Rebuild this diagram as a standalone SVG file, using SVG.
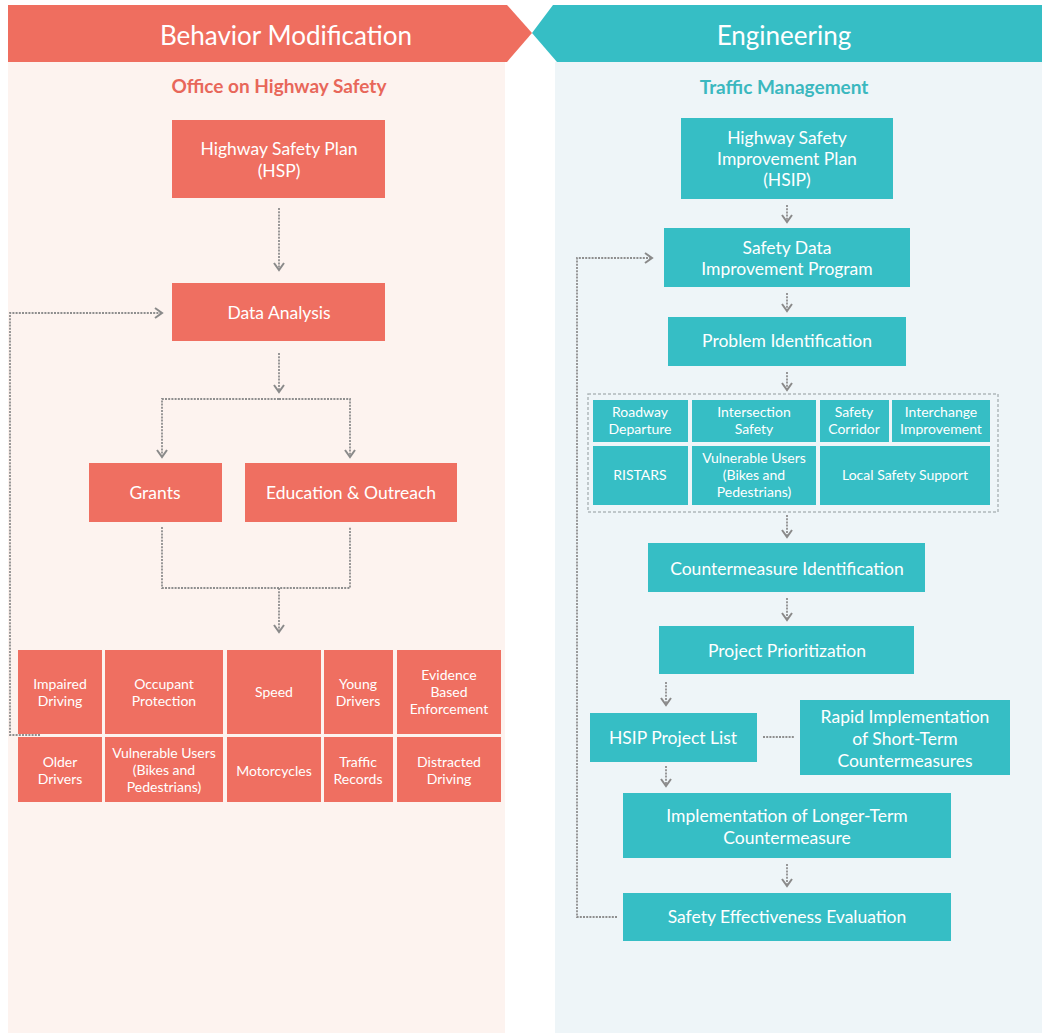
<svg xmlns="http://www.w3.org/2000/svg" width="1042" height="1033" viewBox="0 0 1042 1033">
<defs>
<style>
.red{fill:#ef6f61}
.teal{fill:#36bec5}
.t{font-family:Lato,"Open Sans","Liberation Sans",sans-serif;fill:#ffffff;text-anchor:middle}
.n{font-size:17.5px}
.s{font-size:14px}
.h{font-size:26px}
.conn{fill:none;stroke:#8e8e8e;stroke-width:1.8;stroke-dasharray:2 1.2}
</style>
<marker id="ah" viewBox="0 0 12 12" markerWidth="12" markerHeight="12" refX="10" refY="6" orient="auto" markerUnits="userSpaceOnUse">
<path d="M3,1 L10,6 L3,11" fill="none" stroke="#8a8a8a" stroke-width="2"/>
</marker>
</defs>
<rect x="0" y="0" width="1042" height="1033" fill="#ffffff"/>
<rect x="8" y="62" width="497" height="971" fill="#fdf3ef"/>
<rect x="555" y="62" width="487" height="971" fill="#eef5f8"/>
<g id="header-left">
<polygon points="8,5 507,5 532,33 507,62 8,62" fill="#ef6e5f"/>
<text class="t h" x="286" y="45">Behavior Modification</text>
</g>
<g id="header-right">
<polygon points="532,33 553,5 1042,5 1042,62 557,62" fill="#36bec5"/>
<text class="t h" x="784" y="45">Engineering</text>
</g>
<text x="279" y="93" text-anchor="middle" font-family="Lato,'Open Sans','Liberation Sans',sans-serif" font-size="19" font-weight="bold" fill="#e8675a">Office on Highway Safety</text>
<text x="784" y="94" text-anchor="middle" font-family="Lato,'Open Sans','Liberation Sans',sans-serif" font-size="19" font-weight="bold" fill="#3bb8bf">Traffic Management</text>

<g id="connectors">
<path class="conn" d="M279,208 V270" marker-end="url(#ah)"/>
<path class="conn" d="M279,353 V392" marker-end="url(#ah)"/>
<path class="conn" d="M279,399 H162 V457" marker-end="url(#ah)"/>
<path class="conn" d="M279,399 H350 V457" marker-end="url(#ah)"/>
<path class="conn" d="M162,527 V588 H350 V527"/>
<path class="conn" d="M279,588 V632" marker-end="url(#ah)"/>
<path class="conn" d="M40,735 H10 V313 H162" marker-end="url(#ah)"/>
<path class="conn" d="M787,205 V222" marker-end="url(#ah)"/>
<path class="conn" d="M787,293 V311" marker-end="url(#ah)"/>
<path class="conn" d="M787,372 V390" marker-end="url(#ah)"/>
<path class="conn" d="M787,515 V537" marker-end="url(#ah)"/>
<path class="conn" d="M787,598 V620" marker-end="url(#ah)"/>
<path class="conn" d="M666,682 V705" marker-end="url(#ah)"/>
<path class="conn" d="M666,766 V786" marker-end="url(#ah)"/>
<path class="conn" d="M787,864 V886" marker-end="url(#ah)"/>
<path class="conn" d="M763,737 H795"/>
<path class="conn" d="M617,917 H577 V258 H652" marker-end="url(#ah)"/>
</g>

<g id="hsp"><rect class="red" x="172" y="120" width="213" height="78"/>
<text class="t n" x="279" y="155">Highway Safety Plan</text><text class="t n" x="279" y="177">(HSP)</text></g>
<g id="data-analysis"><rect class="red" x="172" y="283" width="213" height="58"/>
<text class="t n" x="279" y="319">Data Analysis</text></g>
<g id="grants"><rect class="red" x="89" y="463" width="133" height="59"/>
<text class="t n" x="155" y="499">Grants</text></g>
<g id="education"><rect class="red" x="245" y="463" width="212" height="59"/>
<text class="t n" x="351" y="499">Education &amp; Outreach</text></g>

<g id="impaired"><rect class="red" x="18" y="650" width="84" height="84"/>
<text class="t s" x="60" y="689">Impaired</text><text class="t s" x="60" y="706">Driving</text></g>
<g id="occupant"><rect class="red" x="105" y="650" width="118" height="84"/>
<text class="t s" x="164" y="689">Occupant</text><text class="t s" x="164" y="706">Protection</text></g>
<g id="speed"><rect class="red" x="227" y="650" width="94" height="84"/>
<text class="t s" x="274" y="697">Speed</text></g>
<g id="young"><rect class="red" x="324" y="650" width="69" height="84"/>
<text class="t s" x="358" y="689">Young</text><text class="t s" x="358" y="706">Drivers</text></g>
<g id="evidence"><rect class="red" x="397" y="650" width="104" height="84"/>
<text class="t s" x="449" y="680">Evidence</text><text class="t s" x="449" y="697">Based</text><text class="t s" x="449" y="714">Enforcement</text></g>
<g id="older"><rect class="red" x="18" y="737" width="84" height="65"/>
<text class="t s" x="60" y="767">Older</text><text class="t s" x="60" y="784">Drivers</text></g>
<g id="vulnerable-left"><rect class="red" x="105" y="737" width="118" height="65"/>
<text class="t s" x="164" y="758">Vulnerable Users</text><text class="t s" x="164" y="775">(Bikes and</text><text class="t s" x="164" y="792">Pedestrians)</text></g>
<g id="motorcycles"><rect class="red" x="227" y="737" width="94" height="65"/>
<text class="t s" x="274" y="776">Motorcycles</text></g>
<g id="traffic-records"><rect class="red" x="324" y="737" width="69" height="65"/>
<text class="t s" x="358" y="767">Traffic</text><text class="t s" x="358" y="784">Records</text></g>
<g id="distracted"><rect class="red" x="397" y="737" width="104" height="65"/>
<text class="t s" x="449" y="767">Distracted</text><text class="t s" x="449" y="784">Driving</text></g>

<g id="hsip"><rect class="teal" x="681" y="118" width="212" height="81"/>
<text class="t n" x="787" y="144">Highway Safety</text><text class="t n" x="787" y="165">Improvement Plan</text><text class="t n" x="787" y="186">(HSIP)</text></g>
<g id="sdip"><rect class="teal" x="664" y="228" width="246" height="59"/>
<text class="t n" x="787" y="254">Safety Data</text><text class="t n" x="787" y="275">Improvement Program</text></g>
<g id="problem-id"><rect class="teal" x="668" y="317" width="238" height="49"/>
<text class="t n" x="787" y="347">Problem Identification</text></g>

<g id="focus-group">
<rect x="588" y="394" width="410" height="118" fill="none" stroke="#b0b8bb" stroke-width="1.5" stroke-dasharray="3 2"/>
<g id="roadway"><rect class="teal" x="593" y="400" width="95" height="42"/>
<text class="t s" x="640" y="417">Roadway</text><text class="t s" x="640" y="434">Departure</text></g>
<g id="intersection"><rect class="teal" x="692" y="400" width="124" height="42"/>
<text class="t s" x="754" y="417">Intersection</text><text class="t s" x="754" y="434">Safety</text></g>
<g id="corridor"><rect class="teal" x="820" y="400" width="69" height="42"/>
<text class="t s" x="854" y="417">Safety</text><text class="t s" x="854" y="434">Corridor</text></g>
<g id="interchange"><rect class="teal" x="892" y="400" width="98" height="42"/>
<text class="t s" x="941" y="417">Interchange</text><text class="t s" x="941" y="434">Improvement</text></g>
<g id="ristars"><rect class="teal" x="593" y="446" width="95" height="59"/>
<text class="t s" x="640" y="480">RISTARS</text></g>
<g id="vulnerable-right"><rect class="teal" x="692" y="446" width="124" height="59"/>
<text class="t s" x="754" y="463">Vulnerable Users</text><text class="t s" x="754" y="480">(Bikes and</text><text class="t s" x="754" y="497">Pedestrians)</text></g>
<g id="local-safety"><rect class="teal" x="820" y="446" width="170" height="59"/>
<text class="t s" x="905" y="480">Local Safety Support</text></g>
</g>

<g id="countermeasure-id"><rect class="teal" x="648" y="543" width="277" height="49"/>
<text class="t n" x="787" y="575">Countermeasure Identification</text></g>
<g id="prioritization"><rect class="teal" x="659" y="626" width="255" height="48"/>
<text class="t n" x="787" y="657">Project Prioritization</text></g>
<g id="project-list"><rect class="teal" x="590" y="713" width="167" height="49"/>
<text class="t n" x="673" y="744">HSIP Project List</text></g>
<g id="rapid"><rect class="teal" x="800" y="700" width="210" height="75"/>
<text class="t n" x="905" y="723">Rapid Implementation</text><text class="t n" x="905" y="745">of Short-Term</text><text class="t n" x="905" y="767">Countermeasures</text></g>
<g id="longer-term"><rect class="teal" x="623" y="793" width="328" height="65"/>
<text class="t n" x="787" y="822">Implementation of Longer-Term</text><text class="t n" x="787" y="844">Countermeasure</text></g>
<g id="evaluation"><rect class="teal" x="623" y="893" width="328" height="48"/>
<text class="t n" x="787" y="923">Safety Effectiveness Evaluation</text></g>
</svg>
